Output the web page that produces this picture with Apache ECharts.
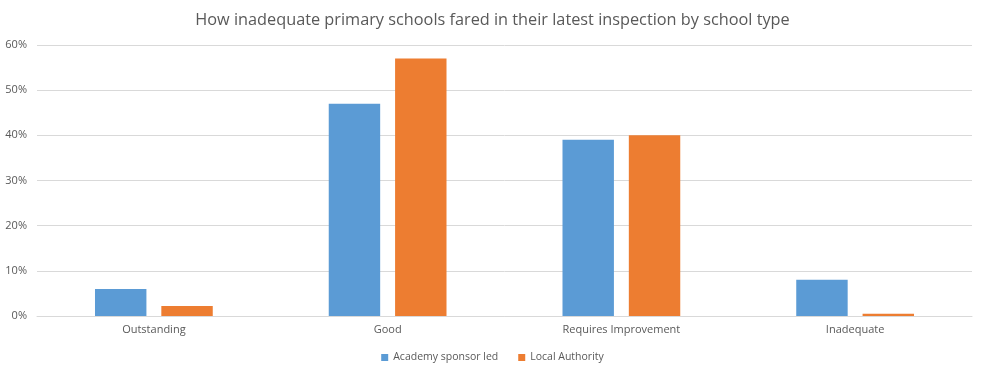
<!DOCTYPE html>
<html><head><meta charset="utf-8">
<script src="https://cdn.jsdelivr.net/npm/echarts@6/dist/echarts.min.js"></script>
<style>html,body{margin:0;padding:0;background:#fff;}#c{width:985px;height:378px;}</style>
</head><body><div id="c"></div>
<script>
const categories = ["Outstanding", "Good", "Requires Improvement", "Inadequate"];
const academy = [6, 47, 39, 8];
const localAuthority = [2.2, 57, 40, 0.5];
const seriesNames = ["Academy sponsor led", "Local Authority"];
const yTicks = [0, 10, 20, 30, 40, 50, 60];

const chart = echarts.init(document.getElementById('c'));
const font = "'Open Sans', 'Liberation Sans', sans-serif";
chart.setOption({
  animation: false,
  title: {
    text: "How inadequate primary schools fared in their latest inspection by school type",
    left: 'center', top: 7,
    textStyle: { fontFamily: font, fontSize: 16.3, fontWeight: 'normal', color: '#595959' }
  },
  legend: {
    data: seriesNames, bottom: 10, itemWidth: 7, itemHeight: 7, itemGap: 20,
    icon: 'rect',
    textStyle: { fontFamily: font, fontSize: 10.5, color: '#595959' }
  },
  grid: { left: 37, right: 13, top: 45, bottom: 62 },
  xAxis: {
    type: 'category', data: categories,
    axisLine: { lineStyle: { color: '#d9d9d9' } },
    axisTick: { show: false },
    axisLabel: { fontFamily: font, fontSize: 11, color: '#595959', margin: 8 }
  },
  yAxis: {
    type: 'value', min: yTicks[0], max: yTicks[yTicks.length - 1], interval: 10,
    axisLine: { show: false }, axisTick: { show: false },
    splitLine: { lineStyle: { color: '#d9d9d9' } },
    axisLabel: { fontFamily: font, fontSize: 11, color: '#595959', formatter: v => v + '%', margin: 10 }
  },
  series: [
    { name: seriesNames[0], type: 'bar', data: academy, barWidth: '22%', barGap: '29%', itemStyle: { color: '#5B9BD5' } },
    { name: seriesNames[1], type: 'bar', data: localAuthority, barWidth: '22%', itemStyle: { color: '#ED7D31' } }
  ]
});
</script></body></html>
